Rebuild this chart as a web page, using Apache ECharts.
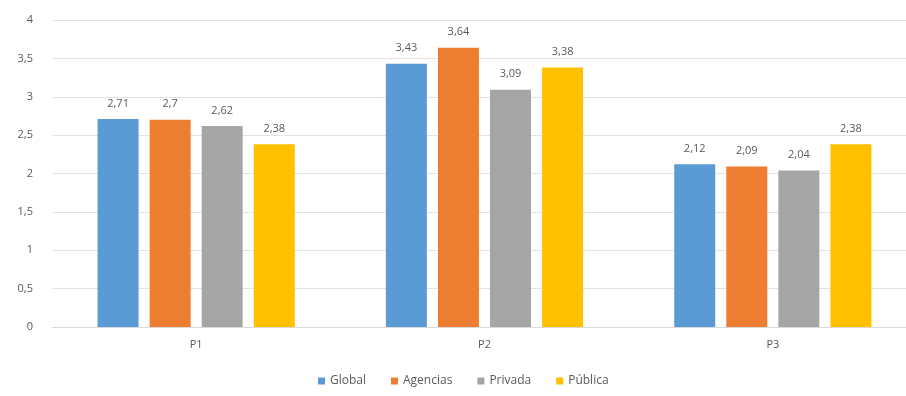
<!DOCTYPE html>
<html><head><meta charset="utf-8">
<script src="https://cdn.jsdelivr.net/npm/echarts@6/dist/echarts.min.js"></script>
<style>html,body{margin:0;padding:0;background:#fff;overflow:hidden}#c{width:920px;height:396px}</style>
</head><body><div id="c"></div>
<script>
const categories = ['P1','P2','P3'];
const seriesNames = ['Global','Agencias','Privada','Pública'];
const globalVals = [2.71, 3.43, 2.12];
const agenciasVals = [2.7, 3.64, 2.09];
const privadaVals = [2.62, 3.09, 2.04];
const publicaVals = [2.38, 3.38, 2.38];
const yTicks = [0,0.5,1,1.5,2,2.5,3,3.5,4];
const colors = ['#5B9BD5','#ED7D31','#A5A5A5','#FFC000'];
const fmt = v => String(v).replace('.', ',');
const chart = echarts.init(document.getElementById('c'));
const data = [globalVals, agenciasVals, privadaVals, publicaVals];
chart.setOption({
  animation:false,
  color: colors,
  textStyle:{fontFamily:'Open Sans, sans-serif'},
  grid:{left:52, top:20, width:865, height:307},
  legend:{bottom:4, left:313, itemWidth:7, itemHeight:7, itemGap:25, icon:'rect',
    textStyle:{color:'#595959', fontSize:12}, data: seriesNames},
  xAxis:{type:'category', data:categories,
    axisLine:{lineStyle:{color:'#D9D9D9'}}, axisTick:{show:false},
    axisLabel:{color:'#595959', fontSize:11, margin:12}},
  yAxis:{type:'value', min:0, max:4, interval:0.5,
    axisLine:{show:false}, axisTick:{show:false},
    splitLine:{lineStyle:{color:'#E3E3E3'}},
    axisLabel:{color:'#595959', fontSize:11, margin:19, formatter: v => fmt(v)}},
  series: seriesNames.map((n,i)=>({
    name:n, type:'bar', data:data[i], barWidth:41, barGap:'27%',
    label:{show:true, position:'top', distance:10, color:'#595959', fontSize:11, formatter:p=>fmt(p.value)}
  }))
});
</script></body></html>
